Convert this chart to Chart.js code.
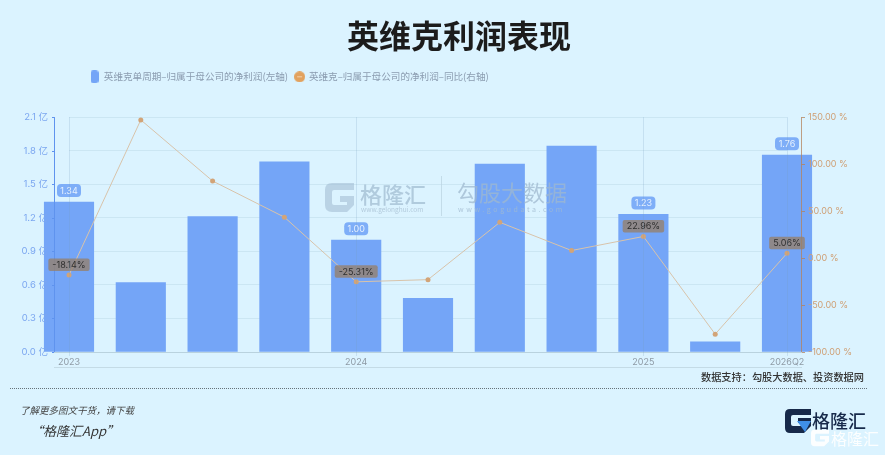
<!DOCTYPE html>
<html>
<head>
<meta charset="utf-8">
<script src="https://cdn.jsdelivr.net/npm/chart.js@4"></script>
<style>
html, body { margin:0; padding:0; }
body { width:885px; height:455px; overflow:hidden; background:#dbf3ff; position:relative; font-family:"Noto Sans CJK SC","Noto Sans",sans-serif; }
canvas { position:absolute; left:0; top:0; }
.t { position:absolute; white-space:nowrap; }
</style>
</head>
<body>
<canvas id="chart" width="885" height="455"></canvas>
<div class="t" style="left:0;width:918px;top:11px;text-align:center;font-size:32px;font-weight:700;line-height:46px;color:#1c1c1c">英维克利润表现</div>

<svg class="t" style="left:323px;top:181px;opacity:.55" width="33" height="33" viewBox="0 0 33 33">
  <path d="M31 2H9Q2 2 2 9V24Q2 31 9 31H24L31 24V15H17V21H24V24H11Q9 24 9 22V11Q9 9 11 9H31Z" fill="#9fb9cf"/>
</svg>
<div class="t" style="left:360px;top:178px;font-size:22px;font-weight:500;line-height:30px;color:#9fb9cf;opacity:.7">格隆汇</div>
<div class="t" style="left:361px;top:205px;font-size:6.5px;line-height:9px;color:#a9c0d3;opacity:.8">www.gelonghui.com</div>
<div class="t" style="left:441px;top:176px;width:1px;height:40px;background:#b9d2e0;opacity:.7"></div>
<div class="t" style="left:457px;top:175px;font-size:22px;line-height:32px;color:#9fb9cf;opacity:.75">勾股大数据</div>
<div class="t" style="left:458px;top:204px;font-size:7px;letter-spacing:2.6px;line-height:10px;color:#a2bbd0;opacity:.8">www.gogudata.com</div>

<div class="t" style="left:701px;top:369px;font-size:10.2px;font-weight:500;line-height:16px;color:#333">数据支持：勾股大数据、投资数据网</div>
<div class="t" style="left:10px;top:388px;width:857px;border-top:1px dotted #66727a"></div>
<div class="t" style="left:20px;top:402px;font-size:9.5px;font-style:italic;line-height:16px;color:#444">了解更多图文干货，请下载</div>
<div class="t" style="left:30px;top:421px;font-size:13px;font-style:italic;line-height:20px;color:#333">“格隆汇App”</div>

<svg class="t" style="left:784px;top:408px" width="28" height="26" viewBox="0 0 28 26">
  <path d="M27 1H6Q1 1 1 6V20Q1 25 6 25H20L27 18V10H14V15H21V18H9Q7 18 7 16V9Q7 7 9 7H27Z" fill="#17294a"/>
  <path d="M13 13H27L21 24Z" fill="#3f8fe8"/>
</svg>
<div class="t" style="left:812px;top:407px;font-size:18px;font-weight:500;line-height:26px;color:#17294a">格隆汇</div>
<svg class="t" style="left:810px;top:429px;opacity:.9" width="20" height="18" viewBox="0 0 28 26">
  <path d="M27 1H6Q1 1 1 6V20Q1 25 6 25H20L27 18V10H14V15H21V18H9Q7 18 7 16V9Q7 7 9 7H27Z" fill="#ffffff"/>
</svg>
<div class="t" style="left:831px;top:426px;font-size:16px;line-height:24px;color:#ffffff;opacity:.9">格隆汇</div>

<script>
var categories = ['2023', '', '', '', '2024', '', '', '', '2025', '', '2026Q2'];
var profitValues = [1.34, 0.62, 1.21, 1.70, 1.00, 0.48, 1.68, 1.84, 1.23, 0.09, 1.76];
var yoyValues = [-18.14, 147, 82, 43.5, -25.31, -23, 38, 8, 22.96, -81, 5.06];
var profitName = '英维克单周期–归属于母公司的净利润(左轴)';
var yoyName = '英维克–归属于母公司的净利润–同比(右轴)';

var barBadgeIdx = [0, 4, 8, 10];

function marker(w, h, draw) {
    var c = document.createElement('canvas');
    c.width = w; c.height = h;
    draw(c.getContext('2d'));
    return c;
}
var barMarker = marker(8, 13, function(g) {
    g.fillStyle = '#74a5f7';
    g.beginPath(); g.roundRect(0, 0, 8, 13, 3); g.fill();
});
var lineMarker = marker(11, 11, function(g) {
    g.fillStyle = '#e2a25f';
    g.beginPath(); g.arc(5.5, 5.5, 5.5, 0, Math.PI * 2); g.fill();
    g.fillStyle = '#f3d3ad';
    g.fillRect(3, 5, 5, 1);
});

function badge(ctx, cx, top, w, h, r, fill, color, text) {
    ctx.fillStyle = fill;
    ctx.beginPath();
    ctx.roundRect(cx - w / 2, top, w, h, r);
    ctx.fill();
    ctx.fillStyle = color;
    ctx.textAlign = 'center';
    ctx.textBaseline = 'middle';
    ctx.fillText(text, cx, top + h / 2 + 0.5);
}

var decorations = {
    id: 'decorations',
    afterLayout: function(chart) {
        chart.legend.left = 83;
        chart.legend.top = 65;
    },
    afterDatasetsDraw: function(chart) {
        var ctx = chart.ctx, left = chart.scales.y, right = chart.scales.y1, area = chart.chartArea;
        ctx.save();
        // axis spines sit 15px outside the plot
        ctx.lineWidth = 1;
        ctx.strokeStyle = '#5f93ee';
        ctx.beginPath();
        ctx.moveTo(54.5, area.top); ctx.lineTo(54.5, area.bottom);
        left.ticks.forEach(function(t) {
            var y = Math.round(left.getPixelForValue(t.value)) + 0.5;
            ctx.moveTo(52, y); ctx.lineTo(54.5, y);
        });
        ctx.stroke();
        ctx.strokeStyle = 'rgba(180,130,90,0.75)';
        ctx.beginPath();
        ctx.moveTo(801.5, area.top); ctx.lineTo(801.5, area.bottom);
        right.ticks.forEach(function(t) {
            var y = Math.round(right.getPixelForValue(t.value)) + 0.5;
            ctx.moveTo(801.5, y); ctx.lineTo(805, y);
        });
        ctx.stroke();
        // baseline, and the line under the tick labels
        ctx.strokeStyle = '#b9d2de';
        ctx.beginPath();
        ctx.moveTo(54, Math.round(area.bottom) + 0.5); ctx.lineTo(802, Math.round(area.bottom) + 0.5);
        ctx.stroke();
        ctx.strokeStyle = '#c4dbe6';
        ctx.beginPath();
        ctx.moveTo(54, 367.5); ctx.lineTo(802, 367.5);
        ctx.stroke();

        ctx.font = '9px Inter, "Noto Sans", sans-serif';
        var bars = chart.getDatasetMeta(1).data, points = chart.getDatasetMeta(0).data;
        barBadgeIdx.forEach(function(i) {
            badge(ctx, bars[i].x, bars[i].y - 18, 24, 13, 4, '#7eaef8', '#e6f1ff', profitValues[i].toFixed(2));
        });
        barBadgeIdx.forEach(function(i) {
            var s = yoyValues[i].toFixed(2) + '%';
            badge(ctx, points[i].x, points[i].y - 16.5, ctx.measureText(s).width + 8, 12.5, 2, 'rgba(150,128,108,0.78)', '#2f2f2f', s);
        });
        ctx.restore();
    }
};

new Chart(document.getElementById('chart'), {
    type: 'bar',
    plugins: [decorations],
    data: {
        labels: categories,
        datasets: [{
            type: 'line',
            label: yoyName,
            data: yoyValues,
            yAxisID: 'y1',
            borderColor: '#d8c3aa',
            borderWidth: 1,
            tension: 0,
            pointRadius: 2.5,
            pointBackgroundColor: '#d2a478',
            pointBorderWidth: 0,
            pointStyle: 'circle',
            clip: false
        }, {
            label: profitName,
            data: profitValues,
            yAxisID: 'y',
            backgroundColor: '#74a5f7',
            barThickness: 49.5,
            clip: false
        }]
    },
    options: {
        responsive: false,
        animation: false,
        devicePixelRatio: 1,
        layout: { padding: { top: 90.5 } },
        plugins: {
            tooltip: { enabled: false },
            legend: {
                position: 'top',
                align: 'start',
                labels: {
                    usePointStyle: true,
                    boxWidth: 9,
                    padding: 7,
                    color: '#8b9cb0',
                    font: { family: '"Noto Sans CJK SC"', size: 9.6 },
                    generateLabels: function() {
                        return [
                            { text: profitName, pointStyle: barMarker, fontColor: '#8b9cb0', lineWidth: 0, datasetIndex: 1 },
                            { text: yoyName, pointStyle: lineMarker, fontColor: '#8b9cb0', lineWidth: 0, datasetIndex: 0 }
                        ];
                    }
                }
            }
        },
        scales: {
            x: {
                offset: false,
                afterFit: function(s) { s.height = 103; },
                border: { display: false },
                grid: {
                    z: 1,
                    offset: false,
                    tickLength: 4,
                    color: function(c) {
                        return categories[c.index] ? 'rgba(120,160,190,0.22)' : 'rgba(0,0,0,0)';
                    }
                },
                ticks: {
                    autoSkip: false,
                    maxRotation: 0,
                    padding: 1,
                    color: '#8e9aa5',
                    font: { family: 'Inter, "Noto Sans", sans-serif', size: 9 }
                }
            },
            y: {
                position: 'left',
                min: 0,
                max: 2.1,
                afterFit: function(s) { s.width = 69; },
                border: { display: false },
                grid: { color: '#cbe6f3', tickLength: 0 },
                ticks: {
                    z: 1,
                    stepSize: 0.3,
                    padding: 21,
                    color: '#7ba6f0',
                    font: { family: 'Inter, "Noto Sans CJK SC", sans-serif', size: 9.5 },
                    callback: function(v) { return v.toFixed(1) + ' 亿'; }
                }
            },
            y1: {
                position: 'right',
                min: -100,
                max: 150,
                afterFit: function(s) { s.width = 98; },
                border: { display: false },
                grid: { display: false, tickLength: 0 },
                ticks: {
                    z: 1,
                    stepSize: 50,
                    padding: 21,
                    color: '#cf9f74',
                    font: { family: 'Inter, "Noto Sans", sans-serif', size: 9 },
                    callback: function(v) { return v.toFixed(2) + ' %'; }
                }
            }
        }
    }
});
</script>
</body>
</html>
